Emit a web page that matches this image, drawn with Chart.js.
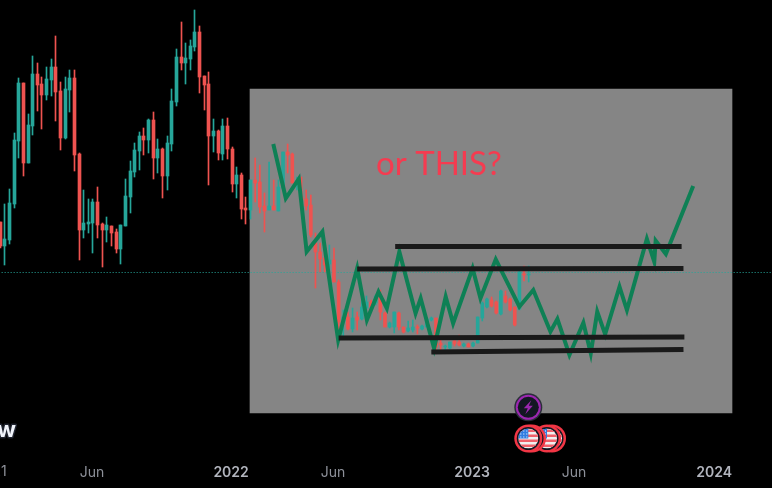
<!DOCTYPE html>
<html>
<head>
<meta charset="utf-8">
<title>or THIS?</title>
<script src="https://cdn.jsdelivr.net/npm/chart.js@4/dist/chart.umd.min.js"></script>
<style>
  html, body { margin: 0; padding: 0; background: #000; overflow: hidden; }
  canvas { display: block; }
</style>
</head>
<body>
<canvas id="chart" width="772" height="488"></canvas>
<script>
// weekly candles, one per week starting at week 0, price in chart units
const opens = [266,242,248,284,347,405,325,362,414,404,393,408,421,397,350,398,410,334,258,264,265,286,264,258,262,256,239,262,291,316,337,352,348,368,330,339,312,344,386,431,425,429,441,456,412,404,352,357,334,362,339,304,313,280,278,
  308,306,282,278,282,277,300,336,334,303,291,289,283,245,236,230,224,228,206,167,171,159,171,169,180,186,185,192,175,161,161,175,161,157,158,161,159,161,168,170,145,141,140,147,146,142,144,142,145,170,181,188,186,174,192,189,181,179,214,213];
const highs = [266,284,299,355,410,405,374,432,425,411,421,429,452,406,411,418,418,335,298,289,289,301,265,271,262,259,263,309,327,345,356,360,369,376,349,340,352,399,439,466,445,448,478,462,412,416,369,358,369,370,341,321,315,291,308,
  330,323,295,326,308,308,336,344,335,311,311,298,293,255,245,240,243,240,208,178,176,180,176,193,192,188,193,198,176,166,176,176,161,167,168,163,163,170,171,170,148,143,146,148,153,145,145,146,171,186,190,191,187,198,197,190,181,219,222,222];
const lows = [240,223,244,280,330,312,325,353,377,359,388,392,367,338,349,376,317,228,250,255,235,250,221,246,242,235,224,262,275,311,318,333,335,309,315,290,298,337,382,418,404,418,437,395,378,303,336,328,328,329,296,290,269,264,269,
  286,275,256,278,278,277,298,315,305,298,278,278,251,200,216,216,216,206,150,151,158,156,158,168,171,180,183,168,161,160,155,158,155,156,156,154,158,161,167,136,138,136,139,142,142,141,141,141,145,167,180,181,174,173,185,177,162,178,207,206];
const closes = [242,249,285,348,405,325,363,414,403,393,409,421,396,350,399,410,333,258,265,266,286,263,258,263,255,239,263,292,317,338,352,348,368,330,339,312,345,387,431,425,430,442,456,411,403,352,357,335,362,339,304,313,279,278,308,
  305,281,277,282,278,301,336,333,305,306,288,282,253,236,229,223,228,206,166,171,159,170,168,181,186,181,192,176,161,165,176,161,156,160,161,160,162,169,170,141,143,142,146,144,143,144,141,145,171,185,189,182,175,197,186,178,163,216,213,214];

// hand drawn overlay in the pasted panel
const pathWeeks = [58.9,61.6,64.4,66.1,69.5,72.9,77.0,79.1,81.6,83.4,86.1,89.6,90.7,93.6,96.1,97.7,101.9,103.6,106.9,112.0,115.0,118.7,120.2,122.8,125.8,127.4,128.8,130.5,133.6,135.2,139.5,141.1,141.4,143.6,149.5];
const pathPrices = [344,289.7,309,236.3,256.3,148,219.7,168,196.3,179.7,236.3,174.7,189.7,139.7,191.3,164.7,219.7,189.7,228.7,181.3,198,156.3,169,133,165.3,134.7,176.3,153.7,201.3,178,249,226.3,247.3,234,302];

// support and resistance lines: [startWeek, startPrice, endWeek, endPrice]
const levels = [
  [85.2, 241.5, 147.0, 241.5],
  [77.0, 219, 147.4, 219.5],
  [73.0, 150, 147.6, 151],
  [93.0, 136, 147.4, 138.5]
];

const lastPrice = 215.5;
const panelWeek = 105.9;
const panelRange = [75, 399];

const tickWeeks = [19.8, 49.8, 71.8, 101.8, 123.8, 154];
const tickLabels = ["Jun", "2022", "Jun", "2023", "Jun", "2024"];
// sits left of the first candle so only its last digit shows on the canvas
const offCanvasTick = { week: -2, label: "2021" };

const UP = "#26a69a";
const DOWN = "#ef5350";
const candleColors = opens.map((o, i) => (closes[i] >= o ? UP : DOWN));
const CRISP_CANDLES = 55; // candles right of this sit in the blurry pasted image
const BODY_WIDTH = 3;
const PANEL_WIDTH = 482;
const TICK_FONT = '"Inter"';

function isYearTick(ctx) {
  return !!ctx.tick && /^\d+$/.test(tickLabels[tickWeeks.indexOf(ctx.tick.value)] || "");
}

// line the left side bars up on whole pixels like the original chart
const snapBars = {
  id: "snapBars",
  afterDatasetsUpdate(chart) {
    chart.data.datasets.forEach((ds, di) => {
      if (!ds.snap) return;
      chart.getDatasetMeta(di).data.forEach((el, i) => {
        if (i >= ds.snap) return;
        // wick and body share the same grid so wicks stay centred
        el.x = Math.round(el.x - ds.snapWidth / 2) + ds.snapWidth / 2;
        el.y = Math.round(el.y);
        el.base = Math.round(el.base);
      });
    });
  }
};

function drawBolt(ctx, x, y) {
  ctx.fillStyle = "#9c27b0";
  ctx.beginPath();
  ctx.moveTo(x + 3, y - 7);
  ctx.lineTo(x - 4.5, y + 1);
  ctx.lineTo(x - 0.5, y + 1);
  ctx.lineTo(x - 3, y + 7);
  ctx.lineTo(x + 4.5, y - 1.5);
  ctx.lineTo(x + 0.5, y - 1.5);
  ctx.closePath();
  ctx.fill();
}

function drawFlag(ctx, x, y) {
  // outer ring
  ctx.beginPath();
  ctx.arc(x, y, 14, 0, Math.PI * 2);
  ctx.fillStyle = "#f23645";
  ctx.fill();
  ctx.beginPath();
  ctx.arc(x, y, 11.5, 0, Math.PI * 2);
  ctx.fillStyle = "#131722";
  ctx.fill();

  ctx.save();
  ctx.beginPath();
  ctx.arc(x, y, 10, 0, Math.PI * 2);
  ctx.clip();
  ctx.fillStyle = "#f0f0f0";
  ctx.fillRect(x - 10, y - 10, 20, 20);
  ctx.fillStyle = "#f0606a";
  for (let s = -9; s < 10; s += 5) ctx.fillRect(x - 10, y + s, 20, 2.5);
  ctx.fillStyle = "#2f7de1";
  ctx.fillRect(x - 10, y - 10, 10, 10);
  ctx.fillStyle = "#fff";
  for (let a = 0; a < 3; a++) {
    for (let b = 0; b < 3; b++) ctx.fillRect(x - 8 + a * 3, y - 8 + b * 3, 1, 1);
  }
  ctx.restore();
}

const annotations = {
  id: "annotations",
  afterDatasetsDraw(chart) {
    const ctx = chart.ctx;
    ctx.save();

    ctx.fillStyle = "#f53b50";
    ctx.font = '33px "Lato"';
    ctx.textBaseline = "alphabetic";
    ctx.textAlign = "left";
    ctx.fillText("or THIS?", 376, 174.5);

    // cut off TradingView logo in the corner
    ctx.font = 'bold 22px "Inter"';
    ctx.textAlign = "right";
    ctx.lineWidth = 3;
    ctx.lineJoin = "round";
    ctx.strokeStyle = "#1e222d";
    ctx.strokeText("w", 16, 437);
    ctx.fillStyle = "#f0f3fa";
    ctx.fillText("w", 16, 437);

    // event markers
    ctx.beginPath();
    ctx.arc(528.3, 407.3, 14, 0, Math.PI * 2);
    ctx.fillStyle = "#2a2e39";
    ctx.fill();
    ctx.beginPath();
    ctx.arc(528.3, 407.3, 12.5, 0, Math.PI * 2);
    ctx.fillStyle = "#9c27b0";
    ctx.fill();
    ctx.beginPath();
    ctx.arc(528.3, 407.3, 10.5, 0, Math.PI * 2);
    ctx.fillStyle = "#131722";
    ctx.fill();
    drawBolt(ctx, 528.3, 407.3);

    [552, 547, 532, 528.3].forEach(x => drawFlag(ctx, x, 438.5));

    // scale would shrink the plot to fit this one, so it goes in by hand
    ctx.font = "14px " + TICK_FONT;
    ctx.fillStyle = "#8e919a";
    ctx.textAlign = "center";
    ctx.textBaseline = "middle";
    ctx.fillText(offCanvasTick.label, chart.scales.x.getPixelForValue(offCanvasTick.week), 472);
    ctx.restore();
  }
};

const weeks = opens.map((_, i) => i);

const datasets = [
  {
    type: "bar",
    label: "panel",
    data: [{ x: panelWeek, y: panelRange }],
    backgroundColor: "#858585",
    barThickness: PANEL_WIDTH,
    grouped: false,
    snap: 1,
    snapWidth: PANEL_WIDTH,
    order: 6
  },
  {
    type: "line",
    label: "last price",
    data: [{ x: -1, y: lastPrice }, { x: 170, y: lastPrice }],
    borderColor: UP,
    borderWidth: 1,
    borderDash: [1, 2],
    pointRadius: 0,
    order: 5
  },
  {
    type: "bar",
    label: "wicks",
    data: weeks.map(i => ({ x: i, y: [lows[i], highs[i]] })),
    backgroundColor: candleColors,
    barThickness: 1,
    grouped: false,
    snap: CRISP_CANDLES,
    snapWidth: BODY_WIDTH,
    order: 4
  },
  {
    type: "bar",
    label: "bodies",
    data: weeks.map(i => ({ x: i, y: [opens[i], closes[i]] })),
    backgroundColor: candleColors,
    barThickness: BODY_WIDTH,
    grouped: false,
    snap: CRISP_CANDLES,
    snapWidth: BODY_WIDTH,
    order: 3
  },
  {
    type: "line",
    label: "path",
    data: pathWeeks.map((w, i) => ({ x: w, y: pathPrices[i] })),
    borderColor: "#0e8055",
    borderWidth: 4,
    borderJoinStyle: "miter",
    tension: 0,
    pointRadius: 0,
    order: 2
  }
];

levels.forEach(l => {
  datasets.push({
    type: "line",
    label: "level",
    data: [{ x: l[0], y: l[1] }, { x: l[2], y: l[3] }],
    borderColor: "#1a1a1a",
    borderWidth: 5,
    pointRadius: 0,
    order: 1
  });
});

new Chart(document.getElementById("chart"), {
  data: { datasets },
  options: {
    responsive: false,
    animation: false,
    events: [],
    layout: { padding: 0 },
    plugins: { legend: { display: false }, tooltip: { enabled: false } },
    scales: {
      x: {
        type: "linear",
        offset: false, // bar charts turn this on and it would widen the range
        min: -0.06,
        max: 166.5,
        grid: { display: false, drawTicks: false },
        border: { display: false },
        afterBuildTicks: scale => {
          scale.ticks = tickWeeks.map(value => ({ value }));
        },
        afterFit: scale => {
          scale.height = 28;
        },
        ticks: {
          autoSkip: false,
          maxRotation: 0,
          padding: 4,
          color: ctx => (isYearTick(ctx) ? "#b2b5be" : "#8e919a"),
          font: ctx => ({
            family: TICK_FONT,
            size: 14,
            weight: isYearTick(ctx) ? "600" : "normal"
          }),
          callback: value => tickLabels[tickWeeks.indexOf(value)]
        }
      },
      y: {
        type: "linear",
        display: false,
        min: 28,
        max: 488
      }
    }
  },
  plugins: [snapBars, annotations]
});
</script>
</body>
</html>
